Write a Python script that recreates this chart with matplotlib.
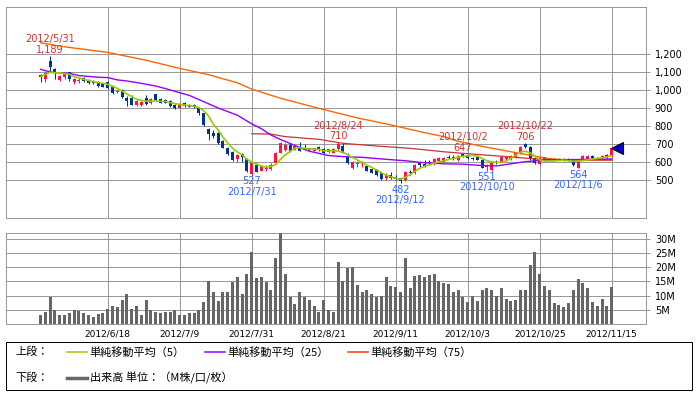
import matplotlib
matplotlib.use('Agg')
import matplotlib.pyplot as plt
from matplotlib.patches import Rectangle
from matplotlib.lines import Line2D
import pandas as pd

# ---------------- data ----------------
holidays = ['2012-07-16', '2012-09-17', '2012-10-08']
_d = [d for d in pd.bdate_range('2012-05-29', '2012-11-15') if d.strftime('%Y-%m-%d') not in holidays]
dates = [f'{d.year}/{d.month}/{d.day}' for d in _d]

opens = [1083, 1059, 1161, 1117, 1054, 1071, 1098, 1043, 1048, 1065,
         1056, 1050, 1043, 1037, 1043, 1018, 987, 998, 954, 956,
         915, 917, 954, 926, 976, 950, 943, 939, 917, 902,
         926, 919, 919, 898, 870, 782, 759, 759, 717, 680,
         657, 615, 644, 615, 535, 583, 552, 559, 563, 593,
         652, 669, 696, 669, 680, 680, 676, 663, 685, 670,
         657, 652, 670, 691, 630, 565, 587, 587, 578, 559,
         556, 537, 509, 528, 519, 509, 500, 546, 537, 594,
         587, 602, 589, 606, 602, 628, 630, 611, 643, 637,
         622, 626, 611, 572, 556, 602, 602, 617, 615, 630,
         648, 698, 685, 620, 587, 626, 617, 615, 617, 615,
         615, 611, 567, 615, 615, 633, 615, 620, 639, 632]
highs = [1091, 1105, 1189, 1120, 1085, 1100, 1102, 1065, 1065, 1072,
         1060, 1055, 1050, 1040, 1048, 1028, 1000, 1004, 967, 970,
         945, 937, 970, 955, 980, 955, 948, 943, 922, 926,
         933, 924, 922, 904, 874, 791, 778, 765, 720, 685,
         660, 644, 648, 620, 600, 593, 583, 583, 596, 657,
         711, 704, 704, 690, 709, 700, 680, 680, 690, 676,
         674, 676, 710, 704, 652, 607, 604, 604, 583, 563,
         559, 546, 537, 546, 528, 513, 550, 556, 589, 602,
         611, 609, 620, 626, 630, 637, 639, 637, 647, 641,
         628, 630, 615, 587, 598, 611, 630, 633, 637, 657,
         689, 706, 691, 626, 624, 630, 622, 620, 622, 622,
         620, 615, 611, 639, 637, 639, 626, 637, 643, 685]
lows = [1046, 1046, 1102, 1059, 1050, 1060, 1052, 1032, 1037, 1045,
        1035, 1035, 1018, 1015, 1005, 976, 981, 957, 911, 917,
        911, 913, 917, 920, 940, 926, 926, 906, 893, 898,
        907, 904, 900, 863, 800, 722, 735, 700, 676, 639,
        607, 602, 602, 546, 527, 546, 548, 548, 556, 587,
        648, 661, 654, 665, 659, 665, 659, 659, 663, 644,
        652, 648, 665, 648, 589, 559, 570, 574, 550, 537,
        524, 500, 500, 504, 498, 482, 496, 530, 533, 570,
        574, 585, 585, 602, 598, 615, 613, 606, 626, 615,
        611, 609, 565, 551, 552, 591, 598, 611, 611, 624,
        644, 680, 611, 587, 583, 609, 607, 606, 609, 606,
        607, 578, 564, 611, 611, 615, 611, 615, 622, 630]
closes = [1071, 1096, 1130, 1093, 1080, 1096, 1059, 1059, 1054, 1052,
          1037, 1040, 1022, 1018, 1013, 981, 993, 963, 939, 917,
          937, 933, 924, 950, 944, 930, 930, 911, 898, 922,
          911, 907, 904, 870, 806, 754, 746, 704, 680, 644,
          611, 639, 630, 552, 593, 546, 578, 574, 583, 650,
          706, 696, 659, 687, 663, 669, 665, 676, 667, 648,
          670, 670, 700, 652, 593, 598, 596, 596, 552, 541,
          528, 504, 528, 509, 504, 496, 546, 537, 583, 583,
          578, 594, 615, 620, 622, 620, 617, 633, 630, 620,
          615, 613, 569, 580, 593, 596, 626, 626, 633, 652,
          685, 685, 620, 593, 620, 613, 611, 611, 613, 611,
          611, 583, 606, 633, 633, 620, 622, 633, 626, 678]
volumes = [3.0, 4.3, 9.6, 5.0, 3.2, 3.2, 3.9, 5.0, 4.6, 3.9,
           3.0, 2.3, 3.6, 3.9, 5.1, 6.4, 6.1, 8.6, 10.7, 5.4,
           6.4, 3.2, 8.6, 5.0, 4.3, 3.9, 4.3, 4.3, 5.0, 3.2,
           3.2, 3.9, 3.9, 5.0, 7.9, 15.2, 11.4, 8.2, 11.1, 11.1,
           14.6, 16.4, 10.7, 17.5, 25.2, 16.1, 16.4, 14.6, 11.8, 23.2,
           32.0, 17.5, 9.6, 7.1, 11.1, 9.6, 8.6, 6.4, 4.3, 8.6,
           5.0, 4.3, 21.8, 15.0, 19.6, 20.1, 13.8, 11.1, 11.8, 10.4,
           9.6, 10.0, 16.4, 13.2, 12.9, 11.4, 23.2, 12.5, 16.8, 17.1,
           16.4, 17.1, 17.5, 15.0, 14.3, 13.9, 11.4, 11.8, 9.6, 7.9,
           10.0, 8.2, 12.1, 12.5, 12.1, 10.0, 12.5, 8.9, 8.2, 8.6,
           11.8, 11.8, 20.7, 25.2, 17.5, 13.2, 11.8, 7.5, 6.8, 6.1,
           7.5, 11.8, 15.7, 14.3, 12.5, 7.9, 6.4, 8.9, 6.4, 12.9]

ma5_day = [0, 2, 4, 6, 7, 9, 11, 13, 14, 16, 18, 20, 22, 24, 26, 28, 30, 32, 33, 34, 35, 36, 37,
           38, 39, 40, 41, 42, 43, 44, 45, 46, 47, 48, 49, 50, 51, 52, 53, 54, 56, 58, 59, 61,
           62, 63, 64, 65, 66, 67, 68, 69, 70, 71, 72, 73, 74, 75, 76, 77, 78, 79, 80, 82, 84,
           86, 88, 90, 91, 92, 93, 94, 96, 97, 98, 99, 100, 101, 102, 103, 104, 105, 107, 109,
           111, 112, 113, 115, 117, 119]
ma5_val = [1074, 1098, 1095, 1087, 1074, 1059, 1046, 1037, 1031, 1009, 978, 948, 937, 939, 936,
           924, 917, 910, 902, 885, 855, 810, 778, 738, 706, 677, 656, 641, 615, 600, 588, 578,
           570, 575, 586, 615, 640, 659, 675, 680, 672, 670, 662, 663, 660, 655, 640, 625, 612,
           596, 583, 570, 556, 540, 528, 518, 510, 504, 515, 530, 548, 565, 576, 593, 608, 620,
           632, 637, 633, 620, 608, 600, 598, 605, 620, 638, 655, 660, 652, 632, 612, 605, 606,
           610, 604, 605, 608, 616, 624, 635]
ma25_day = [0, 1, 3, 6, 8, 12, 14, 16, 18, 21, 24, 26, 29, 31, 34, 37, 41, 44, 46, 48, 50, 53,
            56, 58, 60, 63, 67, 72, 76, 80, 84, 88, 91, 95, 98, 101, 106, 112, 119]
ma25_val = [1115, 1107, 1096, 1093, 1080, 1071, 1069, 1056, 1050, 1037, 1022, 1008, 985, 970,
            935, 900, 860, 812, 785, 750, 725, 692, 660, 648, 636, 630, 626, 615, 607, 596, 590,
            588, 582, 578, 590, 602, 612, 614, 617]
ma75_day = [0, 5, 14, 22, 29, 35, 41, 44, 50, 58, 66, 73, 79, 84, 87, 92, 98, 103, 106, 110, 119]
ma75_val = [1262, 1240, 1209, 1165, 1120, 1085, 1040, 1005, 954, 898, 845, 806, 769, 741, 715,
            687, 657, 633, 618, 612, 611]
line2_day = [44, 48, 51, 58, 63, 70, 77, 84, 90, 97, 104, 110, 119]
line2_val = [757, 755, 741, 726, 704, 689, 676, 657, 644, 630, 615, 612, 611]

high_marks = [('2012/5/31', 1189), ('2012/8/24', 710), ('2012/10/2', 647), ('2012/10/22', 706)]
low_marks = [('2012/7/31', 527), ('2012/9/12', 482), ('2012/10/10', 551), ('2012/11/6', 564)]

tick_dates = ['2012/6/18', '2012/7/9', '2012/7/31', '2012/8/21', '2012/9/11',
              '2012/10/3', '2012/10/25', '2012/11/15']
price_ticks = [500, 600, 700, 800, 900, 1000, 1100, 1200]
vol_ticks = [5, 10, 15, 20, 25, 30]

# ---------------- styling ----------------
RED = '#ff1144'
BLUE = '#003399'
GRID = '#999999'
PX = 0.72  # one pixel in points at dpi 100

fig = plt.figure(figsize=(6.96, 3.95), dpi=100)
ax1 = fig.add_axes([6/696, 1-218/395, 640/696, 211/395])
ax2 = fig.add_axes([6/696, 1-324/395, 640/696, 91/395])

x = list(range(len(dates)))
xlim = (-7.2, 126.15)
tick_pos = [dates.index(t) for t in tick_dates]

for ax in (ax1, ax2):
    ax.set_xlim(*xlim)
    for s in ax.spines.values():
        s.set_color(GRID)
        s.set_linewidth(PX)
    ax.set_xticks(tick_pos)
    ax.grid(True, color=GRID, lw=PX)
    ax.set_axisbelow(True)
    ax.yaxis.tick_right()
    ax.tick_params(axis='y', length=4*PX, width=PX, color=GRID, pad=3.5, labelsize=7)
    ax.tick_params(axis='x', length=0)

# price panel
ax1.set_ylim(289, 1461)
ax1.set_yticks(price_ticks)
ax1.set_yticklabels([f'{v:,}' for v in price_ticks])
ax1.set_xticklabels([])

cols = [RED if c >= o else BLUE for o, c in zip(opens, closes)]
ax1.vlines(x, lows, highs, colors=cols, lw=PX, zorder=3)
bottoms = [min(o, c) for o, c in zip(opens, closes)]
heights = [max(abs(c - o), 4) for o, c in zip(opens, closes)]
ax1.bar(x, heights, bottom=bottoms, width=0.62, color=cols, lw=0, zorder=4)

ax1.plot(ma75_day, ma75_val, color='#ff6600', lw=1.0, zorder=5)
ax1.plot(line2_day, line2_val, color='#cc3333', lw=0.9, zorder=5)
ax1.plot(ma25_day, ma25_val, color='#9900ff', lw=1.0, zorder=5)
ax1.plot(ma5_day, ma5_val, color='#99cc00', lw=1.2, zorder=6)

ax1.plot([x[-1] + 1.2], [closes[-1]], marker='<', markersize=8.5, color='#0000cc',
         mec='black', mew=0.8, zorder=7, clip_on=False)

for d, v in high_marks:
    i = dates.index(d)
    ax1.annotate(f'{v:,}', (i, v), xytext=(0, 4.3), textcoords='offset points',
                 ha='center', va='center', fontsize=7, color='#cc3333', zorder=8)
    ax1.annotate(d, (i, v), xytext=(0, 12.0), textcoords='offset points',
                 ha='center', va='center', fontsize=7, color='#cc3333', zorder=8)
for d, v in low_marks:
    i = dates.index(d)
    ax1.annotate(f'{v:,}', (i, v), xytext=(0, -4.5), textcoords='offset points',
                 ha='center', va='center', fontsize=7, color='#3366ff', zorder=8)
    ax1.annotate(d, (i, v), xytext=(0, -12.0), textcoords='offset points',
                 ha='center', va='center', fontsize=7, color='#3366ff', zorder=8)

# volume panel
ax2.set_ylim(0, 32)
ax2.set_yticks(vol_ticks)
ax2.set_yticklabels([f'{v}M' for v in vol_ticks])
ax2.bar(x, volumes, width=0.62, color='#666666', lw=0, zorder=3)
ax2.set_xticklabels(tick_dates, fontsize=6.5)
ax2.tick_params(axis='x', pad=4)

# legend box
CJK = ['Noto Sans CJK JP', 'DejaVu Sans']
fig.add_artist(Rectangle((6/696, 1-390/395), 686/696, 48/395, transform=fig.transFigure,
                         fill=False, ec='black', lw=PX))
y1 = 1 - 352/395
y2 = 1 - 378/395
fig.text(15/696, y1, '上段：', fontsize=8, family=CJK, va='center')
fig.text(15/696, y2, '下段：', fontsize=8, family=CJK, va='center')
leg = [(67, '#99cc00', '単純移動平均（5）'), (205, '#9900ff', '単純移動平均（25）'),
       (348, '#ff3300', '単純移動平均（75）')]
for lx, c, t in leg:
    fig.add_artist(Line2D([lx/696, (lx+20)/696], [y1, y1], color=c, lw=1.1,
                          transform=fig.transFigure))
    fig.text((lx+22)/696, y1, t, fontsize=8, family=CJK, va='center')
fig.add_artist(Line2D([67/696, 87/696], [y2, y2], color='#666666', lw=2.5,
                      transform=fig.transFigure))
fig.text(90/696, y2, '出来高 単位：（M株/口/枚）', fontsize=8, family=CJK, va='center')

fig.savefig('out.png', dpi=100)
